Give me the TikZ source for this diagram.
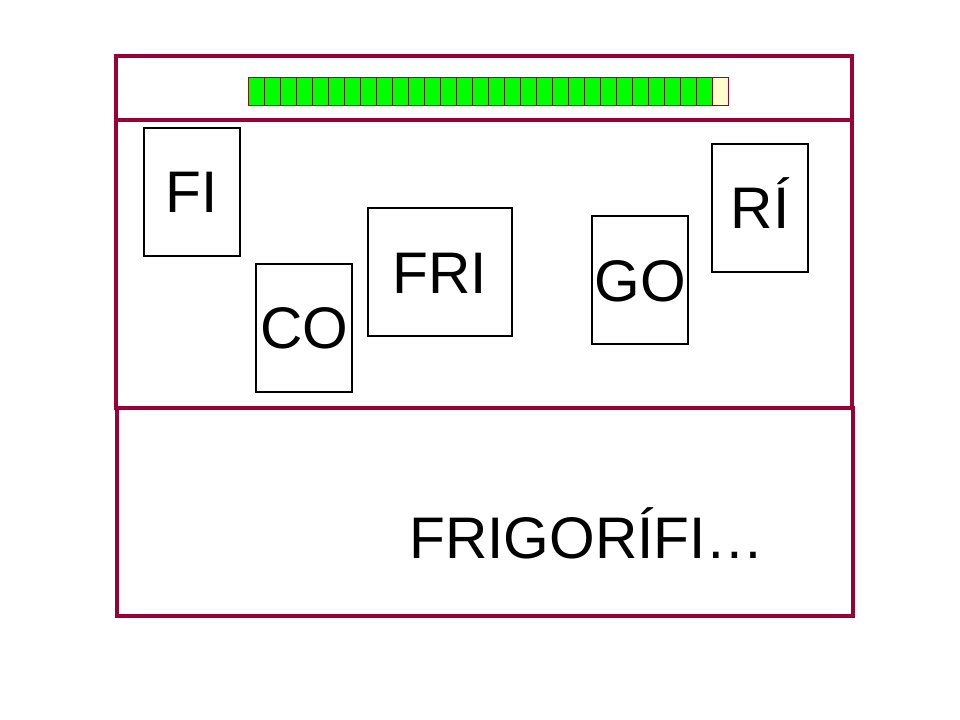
\documentclass[tikz,border=0pt]{standalone}
\usepackage{fontspec}
\setmainfont{Liberation Sans}
\definecolor{framered}{RGB}{153,0,51}
\definecolor{cellgreen}{RGB}{0,255,0}
\definecolor{cellyellow}{RGB}{255,255,204}
\definecolor{cellborder}{RGB}{120,30,20}
\tikzset{
  frameline/.style={draw=framered, line width=2.4pt},
  tile/.style={draw=black, line width=0.8pt, inner sep=0pt, fill=white,
    font=\fontsize{44}{50}\selectfont, text height=31.5pt, text depth=0pt},
  greencell/.style={draw=cellborder, line width=0.6pt, fill=cellgreen},
  yellowcell/.style={draw=framered, line width=0.6pt, fill=cellyellow},
  word/.style={inner sep=0pt, font=\fontsize{44}{50}\selectfont}
}
\begin{document}
\begin{tikzpicture}[x=0.75pt,y=-0.75pt]
\useasboundingbox (0,0) rectangle (960,720);
\fill[white] (0,0) rectangle (960,720);
% frames
\draw[frameline] (117,408) rectangle (853,616);
\draw[frameline] (116,56) rectangle (852,408);
\draw[frameline] (116,120) -- (852,120);
% progress bar
\foreach \i in {0,...,28} {
  \draw[greencell] ({248+16*\i},77) rectangle ({264+16*\i},105);
}
\draw[yellowcell] (712,77) rectangle (728,105);
% tiles
\node[tile, minimum width=96*0.75pt, minimum height=128*0.75pt] (fi) at (192,192) {FI};
\node[tile, minimum width=96*0.75pt, minimum height=128*0.75pt] (co) at (304,328) {CO};
\node[tile, minimum width=144*0.75pt, minimum height=128*0.75pt] (fri) at (440,272) {FRI};
\node[tile, minimum width=96*0.75pt, minimum height=128*0.75pt] (go) at (640,280) {GO};
\node[tile, minimum width=96*0.75pt, minimum height=128*0.75pt] (ri) at (760,208) {RÍ};
% word
\node[word, anchor=base west] (answer) at (409,558) {FRIGORÍFI…};
\end{tikzpicture}
\end{document}
